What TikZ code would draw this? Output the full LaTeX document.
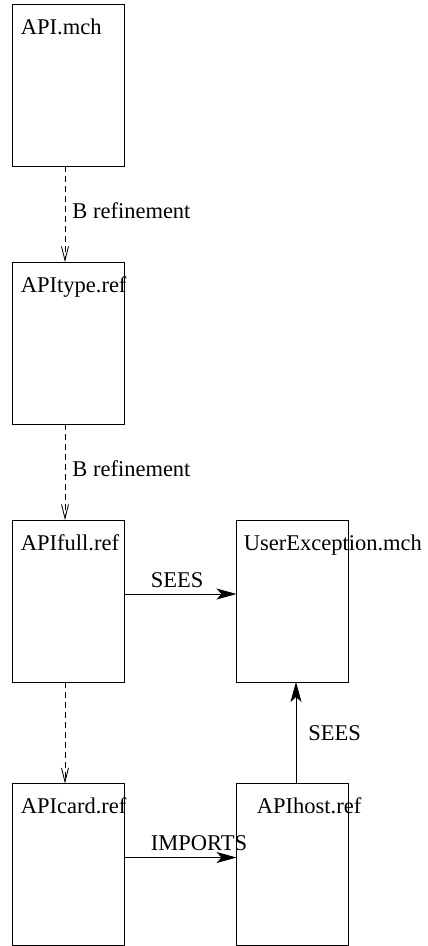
\documentclass[tikz,border=0pt]{standalone}
\usepackage{fontspec}
\setmainfont{Liberation Serif}
\usepackage{tikz}
\usetikzlibrary{shapes, arrows.meta, positioning, calc}

\tikzset{
  machine/.style={draw, minimum width=112pt, minimum height=162pt, inner sep=0pt, outer sep=0pt},
  mname/.style={anchor=base west, inner sep=0pt, font=\fontsize{22.5}{27}\selectfont},
  rel/.style={inner sep=0pt, font=\fontsize{22.5}{27}\selectfont},
  refines/.style={dash pattern=on 6pt off 4pt, -{Straight Barb[length=14pt, width=7pt]}},
  uses/.style={-{Stealth[length=20pt, width=11pt, inset=5pt]}}
}

\begin{document}
\begin{tikzpicture}[line width=0.8pt]
  \useasboundingbox (0,0) rectangle (428pt,-946pt);

  % machines and refinements, left column
  \node[machine] (api) at (68.5pt,-85pt) {};
  \node[machine, below=96pt of api] (apitype) {};
  \node[machine, below=96pt of apitype] (apifull) {};
  \node[machine, below=101.5pt of apifull] (apicard) {};
  % right column
  \node[machine, right=112pt of apifull] (userexc) {};
  \node[machine, right=112pt of apicard] (apihost) {};

  \node[mname] (api-t) at ($(api.north west)+(8pt,-30pt)$) {API.mch};
  \node[mname] (apitype-t) at ($(apitype.north west)+(8pt,-30pt)$) {APItype.ref};
  \node[mname] (apifull-t) at ($(apifull.north west)+(8pt,-30pt)$) {APIfull.ref};
  \node[mname] (apicard-t) at ($(apicard.north west)+(8pt,-30pt)$) {APIcard.ref};
  \node[mname] (userexc-t) at ($(userexc.north west)+(7pt,-30pt)$) {UserException.mch};
  \node[mname] (apihost-t) at ($(apihost.north west)+(20pt,-30pt)$) {APIhost.ref};

  \draw[refines] ([xshift=-3.5pt]api.south) -- node[rel, right=7pt, yshift=3.5pt] (ref1) {B refinement} ([xshift=-3.5pt]apitype.north);
  \draw[refines] ([xshift=-3.5pt]apitype.south) -- node[rel, right=7pt, yshift=3.5pt] (ref2) {B refinement} ([xshift=-3.5pt]apifull.north);
  \draw[refines] ([xshift=-3.5pt]apifull.south) -- ([xshift=-3.5pt]apicard.north);

  % SEES / IMPORTS links
  \draw[uses] ([yshift=7pt]apifull.east) -- node[rel, pos=0, anchor=base west, xshift=26pt, yshift=7pt] (sees1) {SEES} ([yshift=7pt]userexc.west);
  \draw[uses] ([yshift=7pt]apicard.east) -- node[rel, pos=0, anchor=base west, xshift=26pt, yshift=7pt] (imports) {IMPORTS} ([yshift=7pt]apihost.west);
  \draw[uses] ([xshift=3.5pt]apihost.north) -- node[rel, right=12pt] (sees2) {SEES} ([xshift=3.5pt]userexc.south);
\end{tikzpicture}
\end{document}
